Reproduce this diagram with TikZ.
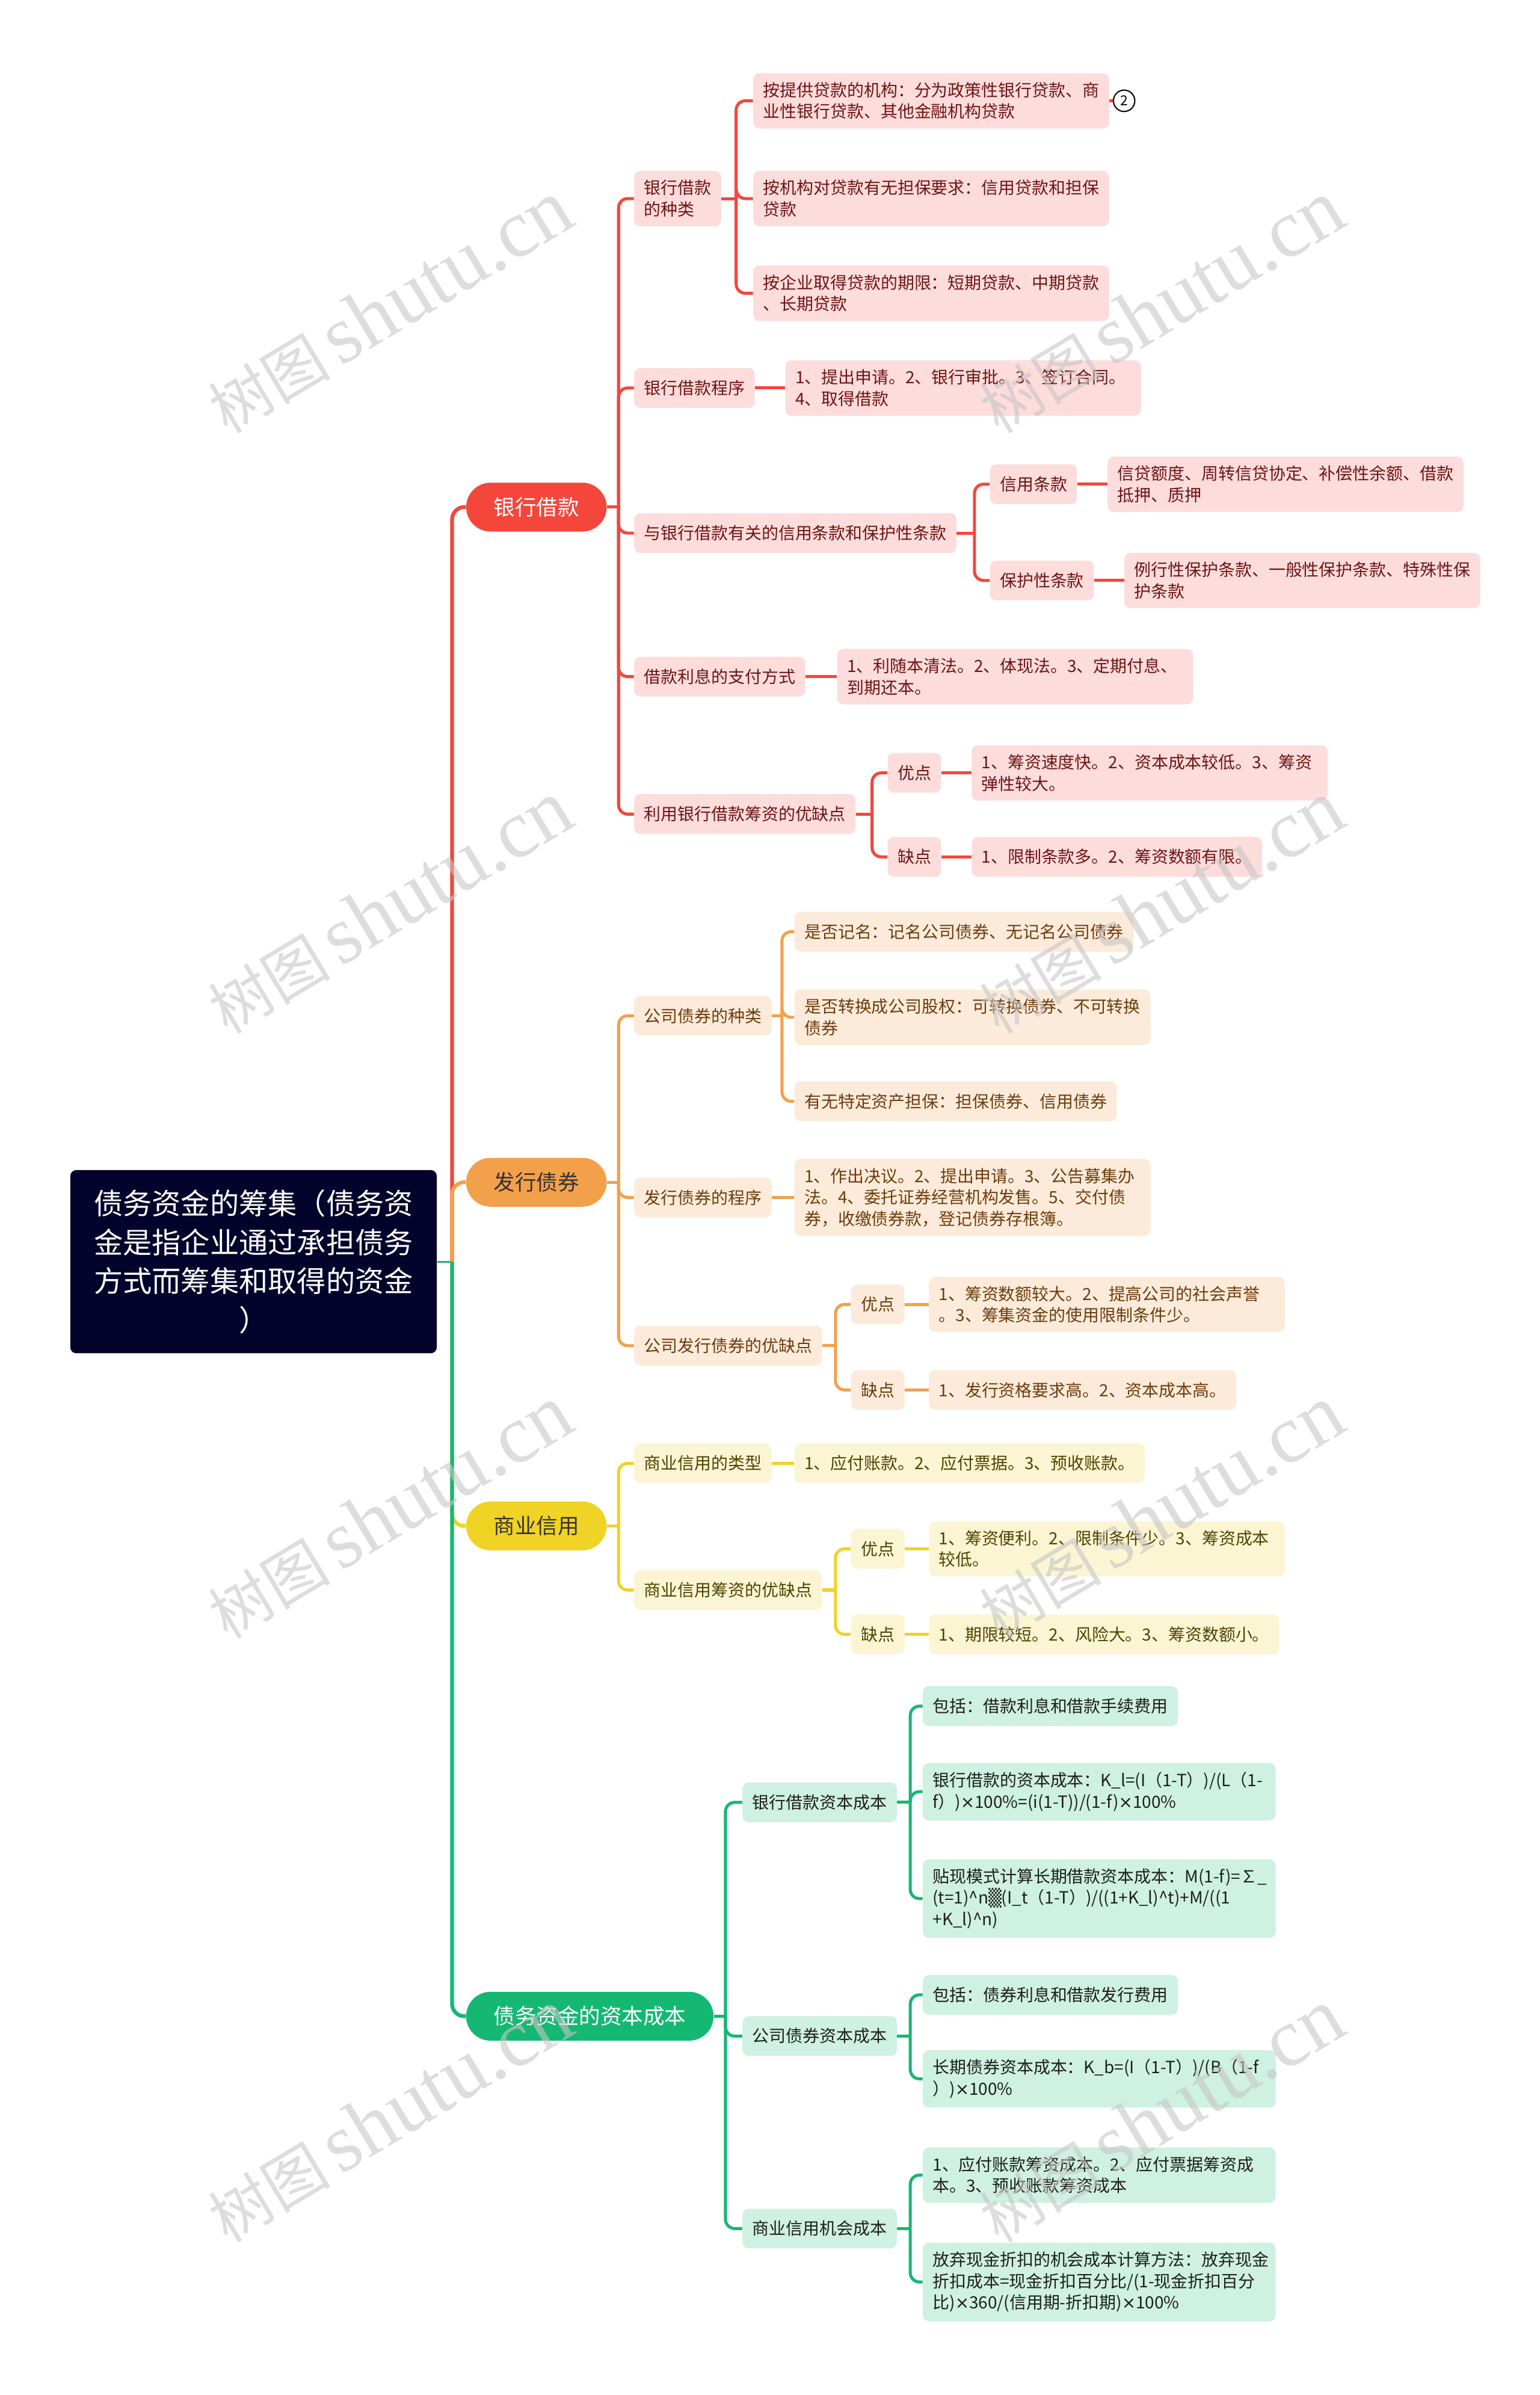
\documentclass[tikz,border=0pt]{standalone}
\usepackage{fontspec}
\setmainfont{Noto Sans CJK SC}
\newfontfamily\shadefont{DejaVu Sans}
\newfontfamily\wmlatin{Liberation Serif}
\newcommand\tms{{\shadefont ×}}
\usetikzlibrary{positioning}

\definecolor{rootnavy}{HTML}{03032B}
\definecolor{bankred}{HTML}{F5463C}
\definecolor{bankfill}{HTML}{FDDCDC}
\definecolor{banktext}{HTML}{6E1414}
\definecolor{bondorange}{HTML}{F3A04B}
\definecolor{bondfill}{HTML}{FCEBDA}
\definecolor{bondtext}{HTML}{6E3C0C}
\definecolor{credityellow}{HTML}{F0D324}
\definecolor{creditfill}{HTML}{FCF5D3}
\definecolor{credittext}{HTML}{4E4400}
\definecolor{costgreen}{HTML}{14B873}
\definecolor{costfill}{HTML}{CEF1E1}
\definecolor{costtext}{HTML}{1E1E1E}

\tikzset{
  rootbox/.style={fill=rootnavy, text=white, rounded corners=4pt, align=center,
    text width=212pt, minimum width=240pt, minimum height=120pt,
    font=\fontsize{19}{25.5}\selectfont},
  mainbox/.style={anchor=west, rounded corners=16pt, minimum height=32pt,
    inner xsep=18pt, inner ysep=0pt, font=\fontsize{14}{16}\selectfont},
  subbox/.style={anchor=west, rounded corners=4pt, align=left, inner xsep=6.5pt,
    inner ysep=6pt, minimum height=26pt, font=\fontsize{11}{14}\selectfont},
  wrapbox/.style={subbox, text width=220pt},
  bankbox/.style={fill=bankfill, text=banktext},
  bondbox/.style={fill=bondfill, text=bondtext},
  creditbox/.style={fill=creditfill, text=credittext},
  costbox/.style={fill=costfill, text=costtext},
  mainline/.style={line width=2.5pt, rounded corners=8pt},
  bankline/.style={draw=bankred, line width=2pt, rounded corners=6pt},
  bondline/.style={draw=bondorange, line width=2pt, rounded corners=6pt},
  creditline/.style={draw=credityellow, line width=2pt, rounded corners=6pt},
  costline/.style={draw=costgreen, line width=2pt, rounded corners=6pt},
  wmark/.style={rotate=31, text=gray!45, opacity=0.6}
}

\begin{document}
\begin{tikzpicture}[x=1pt,y=-1pt]
  \useasboundingbox (0,0) rectangle (1008,1568);

  \node (root) at (166,826) [rootbox] {债务资金的筹集（债务资\\金是指企业通过承担债务\\方式而筹集和取得的资金\\）};

  \node (bank) at (305,332) [mainbox, fill=bankred, text=white] {银行借款};
  \node (bond) at (305,774) [mainbox, fill=bondorange, text=black!80] {发行债券};
  \node (credit) at (305,999) [mainbox, fill=credityellow, text=black!80] {商业信用};
  \node (cost) at (305,1320) [mainbox, fill=costgreen, text=white] {债务资金的资本成本};

  \node (bktype) at (415,130) [subbox, bankbox] {银行借款\\的种类};
  \node (bkproc) at (415,254) [subbox, bankbox] {银行借款程序};
  \node (bkterm) at (415,349) [subbox, bankbox] {与银行借款有关的信用条款和保护性条款};
  \node (bkint) at (415,443) [subbox, bankbox] {借款利息的支付方式};
  \node (bkpro) at (415,533) [subbox, bankbox] {利用银行借款筹资的优缺点};

  \node (bkt1) at (493,66) [wrapbox, bankbox] {按提供贷款的机构：分为政策性银行贷款、商\\业性银行贷款、其他金融机构贷款};
  \node (badge) at (736,66) [circle, draw=black, line width=0.8pt, fill=white, inner sep=0pt, minimum size=14pt, font=\fontsize{9}{9}\selectfont] {2};
  \node (bkt2) at (493,130) [wrapbox, bankbox] {按机构对贷款有无担保要求：信用贷款和担保\\贷款};
  \node (bkt3) at (493,192) [wrapbox, bankbox] {按企业取得贷款的期限：短期贷款、中期贷款\\、长期贷款};
  \node (bkstep) at (514,254) [wrapbox, bankbox] {1、提出申请。2、银行审批。3、签订合同。\\4、取得借款};
  \node (bkcred) at (648,317) [subbox, bankbox] {信用条款};
  \node (bkguard) at (648,380) [subbox, bankbox] {保护性条款};
  \node (bkcredx) at (725,317) [wrapbox, bankbox] {信贷额度、周转信贷协定、补偿性余额、借款\\抵押、质押};
  \node (bkguardx) at (736,380) [wrapbox, bankbox] {例行性保护条款、一般性保护条款、特殊性保\\护条款};
  \node (bkpay) at (548,443) [wrapbox, bankbox] {1、利随本清法。2、体现法。3、定期付息、\\到期还本。};
  \node (bkplus) at (581,506) [subbox, bankbox] {优点};
  \node (bkminus) at (581,561) [subbox, bankbox] {缺点};
  \node (bkplusx) at (636,506) [wrapbox, bankbox] {1、筹资速度快。2、资本成本较低。3、筹资\\弹性较大。};
  \node (bkminusx) at (636,561) [subbox, bankbox] {1、限制条款多。2、筹资数额有限。};

  \node (bdtype) at (415,665) [subbox, bondbox] {公司债券的种类};
  \node (bdproc) at (415,784) [subbox, bondbox] {发行债券的程序};
  \node (bdpro) at (415,881) [subbox, bondbox] {公司发行债券的优缺点};
  \node (bdt1) at (520,610) [subbox, bondbox] {是否记名：记名公司债券、无记名公司债券};
  \node (bdt2) at (520,666) [wrapbox, bondbox] {是否转换成公司股权：可转换债券、不可转换\\债券};
  \node (bdt3) at (520,721) [subbox, bondbox] {有无特定资产担保：担保债券、信用债券};
  \node (bdstep) at (520,784) [wrapbox, bondbox] {1、作出决议。2、提出申请。3、公告募集办\\法。4、委托证券经营机构发售。5、交付债\\券，收缴债券款，登记债券存根簿。};
  \node (bdplus) at (557,854) [subbox, bondbox] {优点};
  \node (bdminus) at (557,910) [subbox, bondbox] {缺点};
  \node (bdplusx) at (608,854) [wrapbox, bondbox] {1、筹资数额较大。2、提高公司的社会声誉\\。3、筹集资金的使用限制条件少。};
  \node (bdminusx) at (608,910) [subbox, bondbox] {1、发行资格要求高。2、资本成本高。};

  \node (crtype) at (415,958) [subbox, creditbox] {商业信用的类型};
  \node (crpro) at (415,1041) [subbox, creditbox] {商业信用筹资的优缺点};
  \node (crtypex) at (520,958) [subbox, creditbox] {1、应付账款。2、应付票据。3、预收账款。};
  \node (crplus) at (557,1014) [subbox, creditbox] {优点};
  \node (crminus) at (557,1070) [subbox, creditbox] {缺点};
  \node (crplusx) at (608,1014) [wrapbox, creditbox] {1、筹资便利。2、限制条件少。3、筹资成本\\较低。};
  \node (crminusx) at (608,1070) [subbox, creditbox] {1、期限较短。2、风险大。3、筹资数额小。};

  \node (cbank) at (486,1180) [subbox, costbox] {银行借款资本成本};
  \node (cbond) at (486,1333) [subbox, costbox] {公司债券资本成本};
  \node (ctrade) at (486,1459) [subbox, costbox] {商业信用机会成本};
  \node (cbank1) at (604,1117) [subbox, costbox] {包括：借款利息和借款手续费用};
  \node (cbank2) at (604,1173) [wrapbox, costbox, text width=218pt] {\mbox{银行借款的资本成本：K\_l=(I（1-T）)/(L（1-}\\\mbox{f）)\tms100\%=(i(1-T))/(1-f)\tms100\%}};
  \node (cbank3) at (604,1243) [wrapbox, costbox, text width=218pt] {\mbox{贴现模式计算长期借款资本成本：M(1-f)=∑\_}\\\mbox{(t=1)\textasciicircum n{\shadefont ▒}(I\_t（1-T）)/((1+K\_l)\textasciicircum t)+M/((1}\\\mbox{+K\_l)\textasciicircum n)}};
  \node (cbond1) at (604,1306) [subbox, costbox] {包括：债券利息和借款发行费用};
  \node (cbond2) at (604,1361) [wrapbox, costbox, text width=218pt] {\mbox{长期债券资本成本：K\_b=(I（1-T）)/(B（1-f}\\\mbox{）)\tms100\%}};
  \node (ctrade1) at (604,1424) [wrapbox, costbox, text width=218pt] {1、应付账款筹资成本。2、应付票据筹资成\\本。3、预收账款筹资成本};
  \node (ctrade2) at (604,1494) [wrapbox, costbox, text width=218pt] {放弃现金折扣的机会成本计算方法：放弃现金\\\mbox{折扣成本=现金折扣百分比/(1-现金折扣百分}\\\mbox{比)\tms360/(信用期-折扣期)\tms100\%}};

  \coordinate (hub) at (296,826);
  \draw[costline, line width=1.2pt] (root.east) -- (hub);
  \draw[bankline, mainline] (hub) |- (bank.west);
  \draw[bondline, mainline] (hub) |- (bond.west);
  \draw[creditline, mainline] (hub) |- (credit.west);
  \draw[costline, mainline] (hub) |- (cost.west);

  \coordinate (bankJ) at (405,332);
  \draw[bankline] (bank.east) -- (bankJ);
  \draw[bankline] (bankJ) |- (bktype.west);
  \draw[bankline] (bankJ) |- (bkproc.west);
  \draw[bankline] (bankJ) |- (bkterm.west);
  \draw[bankline] (bankJ) |- (bkint.west);
  \draw[bankline] (bankJ) |- (bkpro.west);
  \coordinate (bktypeJ) at (482,130);
  \draw[bankline] (bktype.east) -- (bktypeJ);
  \draw[bankline] (bktypeJ) |- (bkt1.west);
  \draw[bankline] (bktypeJ) |- (bkt2.west);
  \draw[bankline] (bktypeJ) |- (bkt3.west);
  \draw[bankline] (bkt1.east) -- (badge.west);
  \draw[bankline] (bkproc.east) -- (bkstep.west);
  \coordinate (bktermJ) at (638,349);
  \draw[bankline] (bkterm.east) -- (bktermJ);
  \draw[bankline] (bktermJ) |- (bkcred.west);
  \draw[bankline] (bktermJ) |- (bkguard.west);
  \draw[bankline] (bkcred.east) -- (bkcredx.west);
  \draw[bankline] (bkguard.east) -- (bkguardx.west);
  \draw[bankline] (bkint.east) -- (bkpay.west);
  \coordinate (bkproJ) at (571,533);
  \draw[bankline] (bkpro.east) -- (bkproJ);
  \draw[bankline] (bkproJ) |- (bkplus.west);
  \draw[bankline] (bkproJ) |- (bkminus.west);
  \draw[bankline] (bkplus.east) -- (bkplusx.west);
  \draw[bankline] (bkminus.east) -- (bkminusx.west);

  \coordinate (bondJ) at (405,774);
  \draw[bondline] (bond.east) -- (bondJ);
  \draw[bondline] (bondJ) |- (bdtype.west);
  \draw[bondline] (bondJ) |- (bdproc.west);
  \draw[bondline] (bondJ) |- (bdpro.west);
  \coordinate (bdtypeJ) at (512,665);
  \draw[bondline] (bdtype.east) -- (bdtypeJ);
  \draw[bondline] (bdtypeJ) |- (bdt1.west);
  \draw[bondline] (bdtypeJ) |- (bdt2.west);
  \draw[bondline] (bdtypeJ) |- (bdt3.west);
  \draw[bondline] (bdproc.east) -- (bdstep.west);
  \coordinate (bdproJ) at (547,881);
  \draw[bondline] (bdpro.east) -- (bdproJ);
  \draw[bondline] (bdproJ) |- (bdplus.west);
  \draw[bondline] (bdproJ) |- (bdminus.west);
  \draw[bondline] (bdplus.east) -- (bdplusx.west);
  \draw[bondline] (bdminus.east) -- (bdminusx.west);

  \coordinate (creditJ) at (405,999);
  \draw[creditline] (credit.east) -- (creditJ);
  \draw[creditline] (creditJ) |- (crtype.west);
  \draw[creditline] (creditJ) |- (crpro.west);
  \draw[creditline] (crtype.east) -- (crtypex.west);
  \coordinate (crproJ) at (547,1041);
  \draw[creditline] (crpro.east) -- (crproJ);
  \draw[creditline] (crproJ) |- (crplus.west);
  \draw[creditline] (crproJ) |- (crminus.west);
  \draw[creditline] (crplus.east) -- (crplusx.west);
  \draw[creditline] (crminus.east) -- (crminusx.west);

  \coordinate (costJ) at (475,1320);
  \draw[costline] (cost.east) -- (costJ);
  \draw[costline] (costJ) |- (cbank.west);
  \draw[costline] (costJ) |- (cbond.west);
  \draw[costline] (costJ) |- (ctrade.west);
  \coordinate (cbankJ) at (596,1180);
  \draw[costline] (cbank.east) -- (cbankJ);
  \draw[costline] (cbankJ) |- (cbank1.west);
  \draw[costline] (cbankJ) |- (cbank2.west);
  \draw[costline] (cbankJ) |- (cbank3.west);
  \coordinate (cbondJ) at (596,1333);
  \draw[costline] (cbond.east) -- (cbondJ);
  \draw[costline] (cbondJ) |- (cbond1.west);
  \draw[costline] (cbondJ) |- (cbond2.west);
  \coordinate (ctradeJ) at (596,1459);
  \draw[costline] (ctrade.east) -- (ctradeJ);
  \draw[costline] (ctradeJ) |- (ctrade1.west);
  \draw[costline] (ctradeJ) |- (ctrade2.west);

  \foreach \wy in {201,594,990,1385} {
    \node (wmleft) at (255,\wy) [wmark] {\fontsize{40}{40}\selectfont 树图\,{\wmlatin\fontsize{54}{54}\selectfont shutu.cn}};
    \node (wmright) at (760,\wy) [wmark] {\fontsize{40}{40}\selectfont 树图\,{\wmlatin\fontsize{54}{54}\selectfont shutu.cn}};
  }
\end{tikzpicture}
\end{document}
